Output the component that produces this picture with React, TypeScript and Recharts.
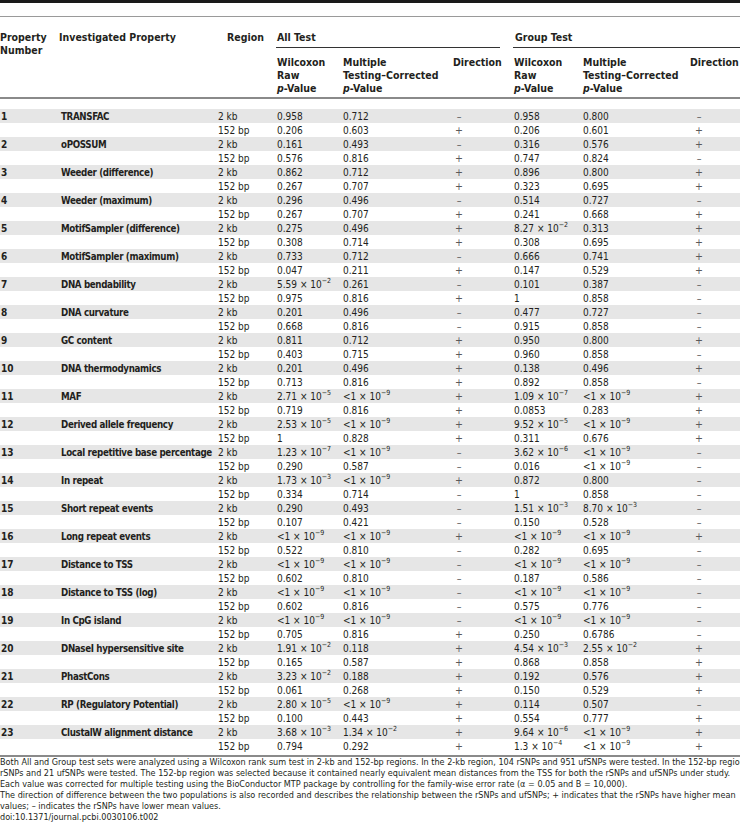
import { ScatterChart, Scatter, XAxis, YAxis, ReferenceArea } from 'recharts';

// Table 2 values, one entry per row (2 kb row, then 152 bp row for each property)
const properties = [
  'TRANSFAC', 'oPOSSUM', 'Weeder (difference)', 'Weeder (maximum)', 'MotifSampler (difference)',
  'MotifSampler (maximum)', 'DNA bendability', 'DNA curvature', 'GC content', 'DNA thermodynamics',
  'MAF', 'Derived allele frequency', 'Local repetitive base percentage', 'In repeat',
  'Short repeat events', 'Long repeat events', 'Distance to TSS', 'Distance to TSS (log)',
  'In CpG island', 'DNaseI hypersensitive site', 'PhastCons', 'RP (Regulatory Potential)',
  'ClustalW alignment distance',
];
const regions = ['2 kb', '152 bp'];

const LT9 = '<1 × 10^−9';

const allRawP = [
  '0.958', '0.206', '0.161', '0.576', '0.862', '0.267', '0.296', '0.267', '0.275', '0.308',
  '0.733', '0.047', '5.59 × 10^−2', '0.975', '0.201', '0.668', '0.811', '0.403', '0.201', '0.713',
  '2.71 × 10^−5', '0.719', '2.53 × 10^−5', '1', '1.23 × 10^−7', '0.290', '1.73 × 10^−3', '0.334',
  '0.290', '0.107', LT9, '0.522', LT9, '0.602', LT9, '0.602', LT9, '0.705',
  '1.91 × 10^−2', '0.165', '3.23 × 10^−2', '0.061', '2.80 × 10^−5', '0.100', '3.68 × 10^−3', '0.794',
];
const allCorrectedP = [
  '0.712', '0.603', '0.493', '0.816', '0.712', '0.707', '0.496', '0.707', '0.496', '0.714',
  '0.712', '0.211', '0.261', '0.816', '0.496', '0.816', '0.712', '0.715', '0.496', '0.816',
  LT9, '0.816', LT9, '0.828', LT9, '0.587', LT9, '0.714',
  '0.493', '0.421', LT9, '0.810', LT9, '0.810', LT9, '0.816', LT9, '0.816',
  '0.118', '0.587', '0.188', '0.268', LT9, '0.443', '1.34 × 10^−2', '0.292',
];
const allDirection = [
  '–', '+', '–', '+', '+', '+', '–', '+', '+', '+',
  '–', '+', '–', '+', '–', '–', '+', '+', '+', '+',
  '+', '+', '+', '+', '–', '–', '+', '–',
  '–', '–', '+', '–', '–', '–', '–', '–', '–', '+',
  '+', '+', '+', '+', '+', '+', '+', '+',
];
const groupRawP = [
  '0.958', '0.206', '0.316', '0.747', '0.896', '0.323', '0.514', '0.241', '8.27 × 10^−2', '0.308',
  '0.666', '0.147', '0.101', '1', '0.477', '0.915', '0.950', '0.960', '0.138', '0.892',
  '1.09 × 10^−7', '0.0853', '9.52 × 10^−5', '0.311', '3.62 × 10^−6', '0.016', '0.872', '1',
  '1.51 × 10^−3', '0.150', LT9, '0.282', LT9, '0.187', LT9, '0.575', LT9, '0.250',
  '4.54 × 10^−3', '0.868', '0.192', '0.150', '0.114', '0.554', '9.64 × 10^−6', '1.3 × 10^−4',
];
const groupCorrectedP = [
  '0.800', '0.601', '0.576', '0.824', '0.800', '0.695', '0.727', '0.668', '0.313', '0.695',
  '0.741', '0.529', '0.387', '0.858', '0.727', '0.858', '0.800', '0.858', '0.496', '0.858',
  LT9, '0.283', LT9, '0.676', LT9, LT9, '0.800', '0.858',
  '8.70 × 10^−3', '0.528', LT9, '0.695', LT9, '0.586', LT9, '0.776', LT9, '0.6786',
  '2.55 × 10^−2', '0.858', '0.576', '0.529', '0.507', '0.777', LT9, LT9,
];
const groupDirection = [
  '–', '+', '+', '–', '+', '+', '–', '+', '+', '+',
  '+', '+', '–', '–', '–', '–', '+', '–', '+', '–',
  '+', '+', '+', '+', '–', '–', '–', '–',
  '–', '–', '+', '–', '–', '–', '–', '–', '–', '–',
  '+', '+', '+', '+', '–', '+', '+', '+',
];

const footnotes = [
  'Both All and Group test sets were analyzed using a Wilcoxon rank sum test in 2-kb and 152-bp regions. In the 2-kb region, 104 rSNPs and 951 ufSNPs were tested. In the 152-bp region, 16',
  'rSNPs and 21 ufSNPs were tested. The 152-bp region was selected because it contained nearly equivalent mean distances from the TSS for both the rSNPs and ufSNPs under study.',
  'Each value was corrected for multiple testing using the BioConductor MTP package by controlling for the family-wise error rate (α = 0.05 and B = 10,000).',
  'The direction of difference between the two populations is also recorded and describes the relationship between the rSNPs and ufSNPs; + indicates that the rSNPs have higher mean',
  'values; – indicates the rSNPs have lower mean values.',
  'doi:10.1371/journal.pcbi.0030106.t002',
];

const FONT = '"DejaVu Sans Condensed", "DejaVu Sans", sans-serif';
const TEXT = '#231f20';
const W = 740;
const H = 822;
const FIRST_ROW = 116;
const ROW_H = 14;

const rows = properties.flatMap((name, i) =>
  regions.map((region, j) => {
    const r = i * 2 + j;
    return {
      row: r,
      number: j === 0 ? String(i + 1) : '',
      property: j === 0 ? name : '',
      region,
      allRaw: allRawP[r],
      allCorr: allCorrectedP[r],
      allDir: allDirection[r],
      groupRaw: groupRawP[r],
      groupCorr: groupCorrectedP[r],
      groupDir: groupDirection[r],
    };
  })
);

const columns = [
  { key: 'number', x: 1, bold: true },
  { key: 'property', x: 61, bold: true, size: 9.7, spacing: -0.35 },
  { key: 'region', x: 218 },
  { key: 'allRaw', x: 277 },
  { key: 'allCorr', x: 343 },
  { key: 'allDir', x: 459, middle: true, color: '#5a5a5a', size: 10.5 },
  { key: 'groupRaw', x: 514 },
  { key: 'groupCorr', x: 583 },
  { key: 'groupDir', x: 699, middle: true, color: '#5a5a5a', size: 10.5 },
];

const renderCell = (col: any) => (props: any) => {
  const { cx, cy, payload } = props;
  const label: string = payload.label;
  if (!label) return <g />;
  const [base, exp] = label.split('^');
  return (
    <text
      x={cx}
      y={cy}
      dominantBaseline="central"
      textAnchor={col.middle ? 'middle' : 'start'}
      fontFamily={FONT}
      fontSize={col.size || 10}
      fontWeight={col.bold ? 700 : 400}
      letterSpacing={col.spacing || 0}
      fill={col.color || TEXT}
    >
      {base}
      {exp && (
        <tspan dy={-3.5} fontSize={7}>
          {exp}
        </tspan>
      )}
    </text>
  );
};

// row index domain so that row r sits at FIRST_ROW + r * ROW_H pixels
const yMin = -FIRST_ROW / ROW_H;
const yMax = yMin + H / ROW_H;

const hdr = (text: any, left: number, top: number) => (
  <div
    style={{
      position: 'absolute',
      left,
      top: top - 7,
      lineHeight: '14px',
      fontSize: 10.5,
      fontWeight: 700,
      whiteSpace: 'nowrap',
      color: TEXT,
    }}
  >
    {text}
  </div>
);

const pv = (
  <span>
    <i>p</i>-Value
  </span>
);

const rule = (left: number, top: number, width: number, height: number, color: string) => (
  <div style={{ position: 'absolute', left, top, width, height, background: color }} />
);

const App = () => {
  return (
    <div
      style={{
        position: 'absolute',
        left: 0,
        top: 0,
        width: W,
        height: H,
        overflow: 'hidden',
        background: '#fff',
        fontFamily: FONT,
      }}
    >
      <ScatterChart width={W} height={H} margin={{ top: 0, right: 0, bottom: 0, left: 0 }}>
        <XAxis type="number" dataKey="x" domain={[0, W]} allowDataOverflow hide />
        <YAxis type="number" dataKey="y" domain={[yMin, yMax]} reversed allowDataOverflow hide />
        {rows
          .filter((r) => r.row % 2 === 0)
          .map((r) => (
            <ReferenceArea
              key={`band-${r.row}`}
              x1={0}
              x2={W}
              y1={r.row - 0.5}
              y2={r.row + 0.5}
              fill="#e6e6e6"
              fillOpacity={1}
              stroke="none"
            />
          ))}
        {columns.map((col) => (
          <Scatter
            key={col.key}
            data={rows.map((r: any) => ({ x: col.x, y: r.row, label: r[col.key] }))}
            shape={renderCell(col)}
            isAnimationActive={false}
          />
        ))}
      </ScatterChart>

      {rule(0, 0, W, 3, '#1a1a1a')}
      {rule(0, 16, W, 1, '#9a9a9a')}
      {rule(276, 47, 224, 1, '#333')}
      {rule(513, 47, 227, 1, '#333')}
      {rule(0, 97, W, 2, '#8a8a8a')}
      {rule(0, 755, W, 2, '#8a8a8a')}

      {hdr('Property', 0, 37)}
      {hdr('Number', 0, 50)}
      {hdr('Investigated Property', 59, 37)}
      {hdr('Region', 227, 37)}
      {hdr('All Test', 277, 37)}
      {hdr('Group Test', 515, 37)}
      {hdr('Wilcoxon', 277, 62)}
      {hdr('Raw', 277, 75)}
      {hdr(pv, 277, 88)}
      {hdr('Multiple', 343, 62)}
      {hdr('Testing–Corrected', 343, 75)}
      {hdr(pv, 343, 88)}
      {hdr('Direction', 453, 62)}
      {hdr('Wilcoxon', 514, 62)}
      {hdr('Raw', 514, 75)}
      {hdr(pv, 514, 88)}
      {hdr('Multiple', 583, 62)}
      {hdr('Testing–Corrected', 583, 75)}
      {hdr(pv, 583, 88)}
      {hdr('Direction', 690, 62)}

      {footnotes.map((line, i) => (
        <div
          key={i}
          style={{
            position: 'absolute',
            left: 0,
            top: 762 + i * 11 - 6,
            lineHeight: '12px',
            fontSize: 9,
            whiteSpace: 'nowrap',
            color: TEXT,
          }}
        >
          {line}
        </div>
      ))}
    </div>
  );
};

export default App;
